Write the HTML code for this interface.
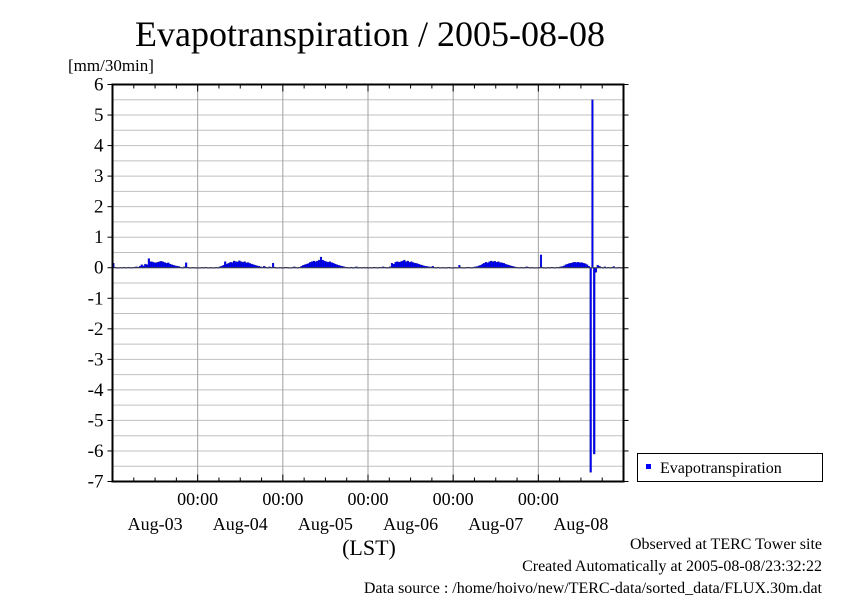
<!DOCTYPE html>
<html><head><meta charset="utf-8"><style>
body{margin:0;background:#fff;}
svg text{font-family:"Liberation Serif",serif;fill:#000;}
</style></head><body>
<svg id="chart" width="842" height="595" xmlns="http://www.w3.org/2000/svg">
<rect width="842" height="595" fill="#fff"/>
<text x="370" y="46" font-size="36" text-anchor="middle">Evapotranspiration / 2005-08-08</text>
<text x="68" y="71" font-size="17">[mm/30min]</text>
<g id="grid"></g><g id="bars"></g><g id="axes"></g>
<text x="369" y="555" font-size="22" text-anchor="middle">(LST)</text>
<g>
<rect x="637.5" y="453.5" width="185" height="28" fill="#fff" stroke="#000"/>
<rect x="646" y="464" width="5" height="5" fill="#0000ff"/>
<text x="660" y="473" font-size="16">Evapotranspiration</text>
</g>
<text x="822" y="549" font-size="16" text-anchor="end">Observed at TERC Tower site</text>
<text x="822" y="571" font-size="16" text-anchor="end">Created Automatically at 2005-08-08/23:32:22</text>
<text x="822" y="593" font-size="16" text-anchor="end">Data source : /home/hoivo/new/TERC-data/sorted_data/FLUX.30m.dat</text>
</svg>
<script>
const dayLabels = ["Aug-03","Aug-04","Aug-05","Aug-06","Aug-07","Aug-08"];
const yTicks = [6,5,4,3,2,1,0,-1,-2,-3,-4,-5,-6,-7];
const d1 = [0.15,0.02,0,0,0.01,0,0.02,0,0.01,0.02,0,0.01,0.02,0.03,0.02,0.05,0.1,0.06,0.12,0.1,0.3,0.2,0.19,0.17,0.16,0.18,0.2,0.21,0.19,0.17,0.15,0.16,0.12,0.1,0.08,0.06,0.05,0.04,0.02,0,0.03,0.16,0.02,0,0,0.01,0,0];
const d2 = [0,0,0.01,0,0.02,0,0,0.01,0,0,0.02,0,0.03,0.05,0.08,0.2,0.12,0.15,0.18,0.17,0.22,0.2,0.19,0.23,0.2,0.18,0.2,0.16,0.17,0.14,0.12,0.1,0.08,0.06,0.05,0.03,0.02,0.05,0.02,0,0.03,0.01,0.15,0.02,0,0,0.01,0];
const d3 = [0,0.02,0.01,0,0,0.01,0.03,0.01,0,0.02,0.05,0.08,0.1,0.12,0.14,0.18,0.2,0.22,0.2,0.22,0.25,0.35,0.25,0.22,0.2,0.18,0.2,0.17,0.15,0.12,0.1,0.08,0.06,0.05,0.03,0.02,0.01,0,0.02,0,0.01,0.03,0,0.01,0,0.02,0,0.01];
const d4 = [0,0.01,0,0.02,0.01,0,0.02,0.01,0.03,0.02,0,0.01,0.03,0.15,0.12,0.18,0.2,0.18,0.2,0.22,0.25,0.2,0.22,0.18,0.2,0.17,0.15,0.14,0.12,0.1,0.08,0.06,0.05,0.04,0.03,0.02,0.05,0.01,0,0.02,0,0,0.01,0,0,0.02,0,0];
const d5 = [0,0.01,0,0.08,0.01,0,0,0.01,0.02,0.01,0,0.02,0.03,0.04,0.06,0.08,0.12,0.15,0.18,0.16,0.2,0.22,0.2,0.21,0.18,0.2,0.17,0.16,0.15,0.12,0.1,0.08,0.06,0.05,0.03,0.02,0.01,0,0.02,0,0.01,0.03,0.02,0,0.01,0,0,0];
const d6 = [0.01,0.42,0.01,0,0,0.01,0,0.02,0.01,0,0.02,0.01,0.03,0.04,0.06,0.1,0.12,0.14,0.15,0.17,0.18,0.17,0.18,0.16,0.17,0.15,0.13,0.1,0.05,-6.7,5.5,-6.1,-0.15,0.08,0.05,0.02,0,0.03,0,0.02,0,0.01,0.04,0,0,0.02,0,0.01];
const values = d1.concat(d2,d3,d4,d5,d6);

const NS="http://www.w3.org/2000/svg";
const L=112.5,R=623.5,T=84.5,B=481.5,YMAX=6,YMIN=-7,NDAYS=6;
function xs(slot){return L+slot*(R-L)/(NDAYS*48);}
function ys(v){return T+(YMAX-v)*(B-T)/(YMAX-YMIN);}
function mk(tag,parent,attrs){const e=document.createElementNS(NS,tag);for(const k in attrs)e.setAttribute(k,attrs[k]);parent.appendChild(e);return e;}
const grid=document.getElementById('grid'),bars=document.getElementById('bars'),axes=document.getElementById('axes');
for(let v=YMIN;v<=YMAX;v+=0.5){
  const l=mk('line',grid,{x1:L,x2:R,y1:ys(v),y2:ys(v),stroke:'#c0c0c0','stroke-width':1});
  
  
}
for(let d=1;d<NDAYS;d++){
  const l=mk('line',grid,{x1:xs(d*48),x2:xs(d*48),y1:T,y2:B,stroke:'#a0a0a0','stroke-width':1});
  
  
}
const bw=(R-L)/(NDAYS*48);
values.forEach((v,i)=>{
  const y0=ys(0),y1=ys(v);
  const r=mk('rect',bars,{x:xs(i),y:Math.min(y0,y1),width:bw,height:Math.max(Math.abs(y1-y0),0.6),fill:'#0000ff',stroke:'#000080','stroke-width':0.3});
  
  
});
const zl=mk('line',axes,{x1:L,x2:R,y1:ys(0),y2:ys(0),stroke:'#404040','stroke-width':1});


const fr=mk('rect',axes,{x:L,y:T,width:R-L,height:B-T,fill:'none',stroke:'#000','stroke-width':2});


yTicks.forEach(v=>{
  mk('line',axes,{x1:L-5,x2:L,y1:ys(v),y2:ys(v),stroke:'#000'});
  mk('line',axes,{x1:R,x2:R+5,y1:ys(v),y2:ys(v),stroke:'#000'});
  const t=mk('text',axes,{x:L-9,y:ys(v)+6,'font-size':19,'text-anchor':'end'});
  t.textContent=v;
  
  
});
for(let h=0;h<=NDAYS*4;h++){
  const x=xs(h*12),len=(h%4===0)?7:4;
  mk('line',axes,{x1:x,x2:x,y1:B,y2:B-len,stroke:'#000'});
  mk('line',axes,{x1:x,x2:x,y1:T,y2:T+len,stroke:'#000'});
}
for(let d=1;d<NDAYS;d++){
  const t=mk('text',axes,{x:xs(d*48),y:505,'font-size':18,'text-anchor':'middle'});
  t.textContent='00:00';
  
  
}
dayLabels.forEach((s,d)=>{
  const t=mk('text',axes,{x:xs(d*48+24),y:530,'font-size':18,'text-anchor':'middle'});
  t.textContent=s;
  
  
});
</script>
</body></html>
